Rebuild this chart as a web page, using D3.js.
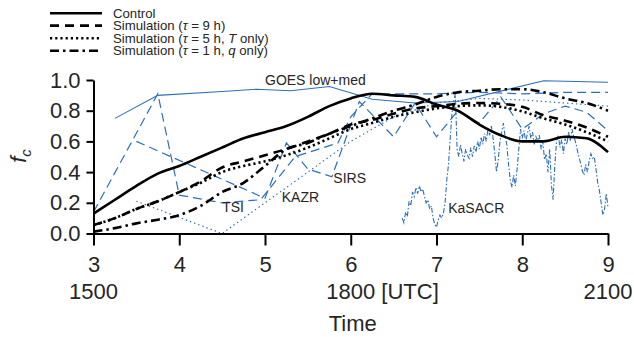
<!DOCTYPE html>
<html>
<head>
<meta charset="utf-8">
<script src="https://cdn.jsdelivr.net/npm/d3@7"></script>
<style>
  html, body { margin: 0; padding: 0; background: #fff; }
  svg text { font-family: "Liberation Sans", Arial, Helvetica, sans-serif; fill: #262626; }
</style>
</head>
<body>
<svg id="chart" width="634" height="337"></svg>
<script>
// ---- Model runs: cloud fraction every 15 minutes ----
const simHours = [3, 3.25, 3.5, 3.75, 4, 4.25, 4.5, 4.75, 5, 5.25, 5.5, 5.75, 6,
                  6.25, 6.5, 6.75, 7, 7.25, 7.5, 7.75, 8, 8.25, 8.5, 8.75, 9];
const controlFc = [0.13, 0.22, 0.31, 0.39, 0.44, 0.50, 0.56, 0.62, 0.66, 0.70, 0.76, 0.83, 0.88,
                   0.91, 0.90, 0.89, 0.84, 0.80, 0.71, 0.64, 0.60, 0.60, 0.63, 0.62, 0.53];
const tau9Fc    = [0.055, 0.10, 0.16, 0.21, 0.27, 0.34, 0.43, 0.47, 0.51, 0.55, 0.60, 0.65, 0.71,
                   0.74, 0.78, 0.815, 0.83, 0.845, 0.85, 0.845, 0.825, 0.77, 0.735, 0.69, 0.63];
const tau5TFc   = [0.055, 0.10, 0.16, 0.21, 0.27, 0.33, 0.40, 0.44, 0.47, 0.51, 0.56, 0.62, 0.68,
                   0.72, 0.76, 0.79, 0.815, 0.83, 0.835, 0.825, 0.795, 0.75, 0.71, 0.66, 0.60];
const tau1qFc   = [0.012, 0.035, 0.066, 0.09, 0.12, 0.18, 0.27, 0.33, 0.44, 0.55, 0.59, 0.65, 0.70,
                   0.75, 0.80, 0.84, 0.89, 0.92, 0.93, 0.94, 0.94, 0.92, 0.88, 0.85, 0.80];

// ---- Observations: [hour, cloud fraction] ----
const goesLowMed = [[3.25, 0.75], [3.75, 0.90], [4.5, 0.925], [4.9, 0.94], [5.3, 0.93], [5.75, 0.958],
                    [6.25, 0.875], [6.75, 0.85], [7.25, 0.86], [8.25, 0.995], [9.0, 0.985]];
const tsiFc = [[3.0, 0.14], [3.75, 0.91], [4.0, 0.25], [4.5, 0.20], [4.95, 0.22], [5.35, 0.50],
               [5.85, 0.59], [6.0, 0.76], [6.25, 0.91], [7.0, 0.91], [7.5, 0.92], [8.0, 0.91],
               [8.5, 0.92], [9.0, 0.92]];
const sirsFc = [[3.5, 0.60], [5.0, 0.23], [5.25, 0.59], [5.5, 0.42], [5.78, 0.37], [6.1, 0.86],
                [6.5, 0.63], [6.75, 0.85], [7.0, 0.63], [7.25, 0.80], [7.5, 0.72], [7.75, 0.89],
                [8.0, 0.68], [8.25, 0.78], [8.5, 0.83], [8.75, 0.79], [9.0, 0.67]];
const kazrFc = [[3.5, 0.21], [4.5, 0.0], [6.0, 0.60], [6.5, 0.76], [7.0, 0.85], [7.5, 0.88],
                [8.0, 0.87], [8.5, 0.85], [9.0, 0.83]];
// KaSACR: one value every 0.02 h from 6.6 h
const kasacrStart = 6.6;
const kasacrStep = 0.02;
const kasacrFc = [
  0.10, 0.07, 0.14, 0.11, 0.21, 0.18,
  0.27, 0.24, 0.30, 0.26, 0.31, 0.27, 0.29,
  0.24, 0.20, 0.22, 0.16, 0.18, 0.10, 0.06, 0.04,
  0.09, 0.12, 0.10, 0.13, 0.20,
  0.35, 0.45, 0.62, 0.78, 0.86, 0.91,
  0.55, 0.50, 0.58, 0.52, 0.47, 0.55, 0.51, 0.49, 0.56,
  0.50, 0.57, 0.53, 0.60, 0.55, 0.63, 0.58, 0.65, 0.60, 0.68,
  0.64, 0.70, 0.62, 0.52, 0.40, 0.48, 0.60, 0.66, 0.72, 0.63,
  0.58, 0.45, 0.35, 0.30, 0.38, 0.31, 0.42, 0.55, 0.68, 0.62,
  0.67, 0.60, 0.65, 0.70, 0.62, 0.66, 0.58, 0.63, 0.60, 0.64,
  0.55, 0.60, 0.48, 0.52, 0.40, 0.55, 0.32, 0.22, 0.45, 0.60,
  0.64, 0.56, 0.61, 0.52, 0.62, 0.58, 0.66, 0.60, 0.68, 0.63,
  0.60, 0.55, 0.50, 0.46, 0.41, 0.38, 0.45, 0.40, 0.47, 0.52,
  0.49, 0.50, 0.42, 0.33, 0.28, 0.20, 0.12, 0.16, 0.26, 0.17
];

// ---- Axis ticks ----
const xTicks = [3, 4, 5, 6, 7, 8, 9];
const utcHours = [3, 6, 9];
const utcLabels = ["1500", "1800", "2100"];
const yTicks = [0, 0.2, 0.4, 0.6, 0.8, 1.0];

const legendNames = ["Control", "Simulation (τ = 9 h)", "Simulation (τ = 5 h, T only)", "Simulation (τ = 1 h, q only)"];

// ---- Drawing ----
const svg = d3.select("#chart");
svg.append("rect").attr("width", 634).attr("height", 337).attr("fill", "#fff");

const x = d3.scaleLinear().domain([3, 9]).range([93.5, 608]);
const y = d3.scaleLinear().domain([0, 1]).range([233.5, 80]);

const BLUE = "#2c6fbd";
const BLACK = "#000";

const modelStyles = [
  { data: controlFc, dash: null },
  { data: tau9Fc, dash: "9,6" },
  { data: tau5TFc, dash: "2.2,3" },
  { data: tau1qFc, dash: "9,4,2.5,4" }
];

const plot = svg.append("g");

const pairLine = d3.line().x(d => x(d[0])).y(d => y(d[1]));

// observation lines
plot.append("path").datum(goesLowMed).attr("d", pairLine)
  .attr("fill", "none").attr("stroke", BLUE).attr("stroke-width", 1.1);
plot.append("path").datum(tsiFc).attr("d", pairLine)
  .attr("fill", "none").attr("stroke", BLUE).attr("stroke-width", 1.2).attr("stroke-dasharray", "9,5");
plot.append("path").datum(sirsFc).attr("d", pairLine)
  .attr("fill", "none").attr("stroke", BLUE).attr("stroke-width", 1.2).attr("stroke-dasharray", "9,5");
plot.append("path").datum(kazrFc).attr("d", pairLine)
  .attr("fill", "none").attr("stroke", BLUE).attr("stroke-width", 1.2).attr("stroke-dasharray", "1.4,3");
const kasacrPairs = kasacrFc.map((v, i) => [kasacrStart + i * kasacrStep, v]);
plot.append("path").datum(kasacrPairs).attr("d", pairLine)
  .attr("fill", "none").attr("stroke", BLUE).attr("stroke-width", 1.1).attr("stroke-dasharray", "5,2,1.5,2");

// model lines
const modelLine = d3.line().curve(d3.curveMonotoneX)
  .x((d, i) => x(simHours[i])).y(d => y(d));
modelStyles.forEach(s => {
  plot.append("path").datum(s.data).attr("d", modelLine)
    .attr("fill", "none").attr("stroke", BLACK).attr("stroke-width", 2.6)
    .attr("stroke-dasharray", s.dash);
});

// line labels
const labels = [
  { text: "GOES low+med", hx: 5.0, fy: 0.967 },
  { text: "TSI", hx: 4.5, fy: 0.143 },
  { text: "KAZR", hx: 5.195, fy: 0.205 },
  { text: "SIRS", hx: 5.797, fy: 0.332 },
  { text: "KaSACR", hx: 7.137, fy: 0.134 }
];
labels.forEach(l => {
  svg.append("text").attr("x", x(l.hx)).attr("y", y(l.fy))
    .attr("font-size", 14).text(l.text);
});

// axes
const xAxis = d3.axisBottom(x).tickValues(xTicks).tickSize(12).tickSizeOuter(0)
  .tickPadding(11).tickFormat(d3.format("d"));
const gx = svg.append("g").attr("transform", `translate(0,${y(0)})`).call(xAxis);
gx.select(".domain").attr("stroke", BLACK).attr("stroke-width", 2);
gx.selectAll(".tick line").attr("stroke", BLACK).attr("stroke-width", 2);
gx.selectAll(".tick text").attr("font-size", 22).attr("fill", "#262626")
  .attr("font-family", "Liberation Sans, Arial, sans-serif");

const yAxis = d3.axisLeft(y).tickValues(yTicks).tickSize(7).tickSizeOuter(0)
  .tickPadding(6).tickFormat(d3.format(".1f"));
const gy = svg.append("g").attr("transform", `translate(${x(3)},0)`).call(yAxis);
gy.select(".domain").attr("stroke", BLACK).attr("stroke-width", 2);
gy.selectAll(".tick line").attr("stroke", BLACK).attr("stroke-width", 2);
gy.selectAll(".tick text").attr("font-size", 22).attr("fill", "#262626")
  .attr("font-family", "Liberation Sans, Arial, sans-serif");

// UTC second row
const utcRowY = 298.5;
utcHours.forEach((h, i) => {
  const t = svg.append("text").attr("x", x(h)).attr("y", utcRowY)
    .attr("font-size", 22).attr("text-anchor", "middle").text(utcLabels[i]);
  if (h === 6) {
    const w = t.node().getComputedTextLength();
    svg.append("text").attr("x", x(h) + w / 2).attr("y", utcRowY)
      .attr("font-size", 22).attr("xml:space", "preserve").text(" [UTC]");
  }
});

// axis titles
svg.append("text").attr("x", x(6) + 2).attr("y", 331).attr("font-size", 22)
  .attr("text-anchor", "middle").text("Time");

const yt = svg.append("text").attr("transform", "translate(26,156) rotate(-90)")
  .attr("font-size", 22).attr("text-anchor", "middle");
yt.append("tspan").attr("font-style", "italic").text("f");
yt.append("tspan").attr("font-style", "italic").attr("font-size", 15).attr("dy", 5).text("c");

// legend
const legend = svg.append("g");
const legendRowY = [13.3, 25.6, 38.2, 50.8];
modelStyles.forEach((s, i) => {
  legend.append("line").attr("x1", 50).attr("x2", 102)
    .attr("y1", legendRowY[i]).attr("y2", legendRowY[i])
    .attr("stroke", BLACK).attr("stroke-width", 2.6).attr("stroke-dasharray", s.dash);
});
const legText = legend.selectAll("text.leg").data(legendNames).enter().append("text")
  .attr("class", "leg").attr("x", 113).attr("y", (d, i) => legendRowY[i] + 4.6)
  .attr("font-size", 13.2);
legText.each(function (d) {
  const t = d3.select(this);
  // τ, T and q are set in italics
  const parts = d.split(/(τ|T(?= only)|q(?= only))/);
  parts.forEach(p => {
    if (!p) return;
    const sp = t.append("tspan").text(p);
    if (p === "τ" || p === "T" || p === "q") sp.attr("font-style", "italic");
  });
});
</script>
</body>
</html>
